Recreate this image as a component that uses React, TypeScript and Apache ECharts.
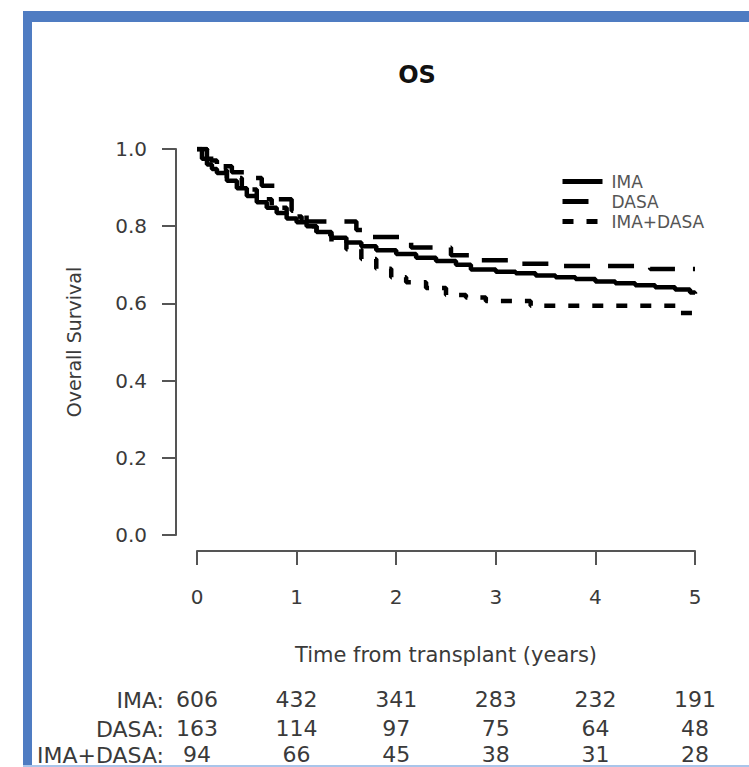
import React, { useEffect, useRef } from "react";
import * as echarts from "echarts";

const timeTicks = [0, 1, 2, 3, 4, 5];
const survTicks = [0, 0.2, 0.4, 0.6, 0.8, 1.0];

const imaTime = [0, 0.05, 0.1, 0.15, 0.2, 0.3, 0.4, 0.5, 0.6, 0.7, 0.8, 0.9, 1.0, 1.1, 1.2, 1.35, 1.5, 1.65, 1.8, 2.0, 2.2, 2.4, 2.6, 2.75, 3.0, 3.2, 3.4, 3.6, 3.8, 4.0, 4.2, 4.4, 4.6, 4.8, 4.95, 5.0];
const imaSurv = [1.0, 0.975, 0.96, 0.948, 0.938, 0.918, 0.898, 0.878, 0.862, 0.848, 0.834, 0.82, 0.81, 0.8, 0.785, 0.77, 0.758, 0.748, 0.738, 0.728, 0.718, 0.71, 0.7, 0.688, 0.682, 0.678, 0.672, 0.668, 0.663, 0.657, 0.652, 0.647, 0.642, 0.636, 0.628, 0.625];

const dasaTime = [0, 0.1, 0.2, 0.35, 0.5, 0.65, 0.8, 0.95, 1.1, 1.6, 1.75, 2.15, 2.55, 2.75, 3.2, 3.6, 4.55, 5.0];
const dasaSurv = [1.0, 0.975, 0.955, 0.94, 0.925, 0.905, 0.87, 0.84, 0.812, 0.79, 0.772, 0.745, 0.725, 0.712, 0.703, 0.697, 0.689, 0.689];

const comboTime = [0, 0.1, 0.2, 0.3, 0.45, 0.6, 0.75, 0.9, 1.05, 1.2, 1.35, 1.5, 1.65, 1.8, 1.95, 2.1, 2.3, 2.5, 2.7, 2.9, 3.35, 4.85, 5.0];
const comboSurv = [1.0, 0.97, 0.945, 0.925, 0.895, 0.87, 0.848, 0.825, 0.8, 0.78, 0.76, 0.74, 0.715, 0.69, 0.668, 0.655, 0.64, 0.622, 0.615, 0.606, 0.594, 0.575, 0.573];

const groupNames = ["IMA", "DASA", "IMA+DASA"];
const riskIMA = [606, 432, 341, 283, 232, 191];
const riskDASA = [163, 114, 97, 75, 64, 48];
const riskCombo = [94, 66, 45, 38, 31, 28];

const FONT = "DejaVu Sans";
const TXT = "#3a3a3a";

function pairs(t: number[], s: number[]) {
  return t.map((x, i) => [x, s[i]]);
}

export default function App() {
  const ref = useRef<HTMLDivElement>(null);
  useEffect(() => {
    document.body.style.margin = "0";
    const chart = echarts.init(ref.current!, null, { renderer: "svg" });
    const riskAxis = (vals: number[], margin: number) => ({
      type: "value",
      min: 0,
      max: 5,
      interval: 1,
      position: "bottom",
      offset: 16,
      gridIndex: 0,
      axisLine: { show: false, onZero: false },
      axisTick: { show: false },
      splitLine: { show: false },
      axisLabel: {
        margin,
        fontFamily: FONT,
        fontSize: 22,
        color: TXT,
        formatter: (v: number) => String(vals[timeTicks.indexOf(v)] ?? ""),
      },
    });
    const lineSeries = (name: string, data: number[][], type: any) => ({
      name,
      type: "line",
      step: "end",
      data,
      showSymbol: false,
      symbol: "none",
      lineStyle: { color: "#000", width: 4.5, type },
      itemStyle: { color: "#000" },
    });
    chart.setOption({
      animation: false,
      backgroundColor: "#fff",
      grid: { left: 197, right: 54, top: 149, bottom: 232, containLabel: false },
      xAxis: [
        {
          type: "value",
          min: 0,
          max: 5,
          interval: 1,
          position: "bottom",
          offset: 16,
          axisLine: { show: true, onZero: false, lineStyle: { color: "#555", width: 2 } },
          axisTick: { show: true, length: 14, lineStyle: { color: "#555", width: 2 } },
          splitLine: { show: false },
          axisLabel: { margin: 36, fontFamily: FONT, fontSize: 20, color: TXT, formatter: (v: number) => String(v) },
          name: "Time from transplant (years)",
          nameLocation: "middle",
          nameGap: 93,
          nameTextStyle: { fontFamily: FONT, fontSize: 21, color: TXT },
        },
        riskAxis(riskIMA, 137),
        riskAxis(riskDASA, 166),
        riskAxis(riskCombo, 192),
      ],
      yAxis: {
        type: "value",
        min: 0,
        max: 1,
        interval: 0.2,
        offset: 21,
        axisLine: { show: true, onZero: false, lineStyle: { color: "#555", width: 2 } },
        axisTick: { show: true, length: 14, lineStyle: { color: "#555", width: 2 } },
        splitLine: { show: false },
        axisLabel: {
          margin: 29,
          fontFamily: FONT,
          fontSize: 20,
          color: TXT,
          formatter: (v: number) => (survTicks.includes(Math.round(v * 10) / 10) ? v.toFixed(1) : ""),
        },
        name: "Overall Survival",
        nameLocation: "middle",
        nameGap: 93,
        nameTextStyle: { fontFamily: FONT, fontSize: 19, color: TXT },
      },
      legend: {
        data: groupNames,
        orient: "vertical",
        left: 555,
        top: 168,
        itemWidth: 40,
        itemHeight: 12,
        itemGap: 3,
        itemStyle: { opacity: 0 },
        lineStyle: { width: 5 },
        textStyle: { fontFamily: FONT, fontSize: 17, color: "#555", padding: [0, 0, 0, 4] },
      },
      series: [
        lineSeries(groupNames[0], pairs(imaTime, imaSurv), "solid"),
        lineSeries(groupNames[1], pairs(dasaTime, dasaSurv), [26, 18]),
        lineSeries(groupNames[2], pairs(comboTime, comboSurv), [11, 13]),
      ],
      graphic: [
        { type: "rect", shape: { x: 23, y: 11, width: 726, height: 11 }, style: { fill: "#4f7cc2" }, z: 100 },
        { type: "rect", shape: { x: 23, y: 11, width: 9, height: 756 }, style: { fill: "#4f7cc2" }, z: 100 },
        { type: "rect", shape: { x: 23, y: 765, width: 726, height: 2 }, style: { fill: "#a9c5ea" }, z: 100 },
        {
          type: "text",
          x: 417,
          y: 75,
          style: { text: "OS", fontFamily: FONT, fontSize: 24, fontWeight: "bold", fill: "#111", textAlign: "center", textVerticalAlign: "middle" },
        },
        ...groupNames.map((g, i) => ({
          type: "text",
          x: 164,
          y: [700, 729, 755][i],
          style: { text: g + ":", fontFamily: FONT, fontSize: 22, fill: TXT, textAlign: "right", textVerticalAlign: "middle" },
        })),
      ],
    });
    return () => chart.dispose();
  }, []);
  return <div ref={ref} style={{ position: "fixed", left: 0, top: 0, width: 749, height: 767 }} />;
}
